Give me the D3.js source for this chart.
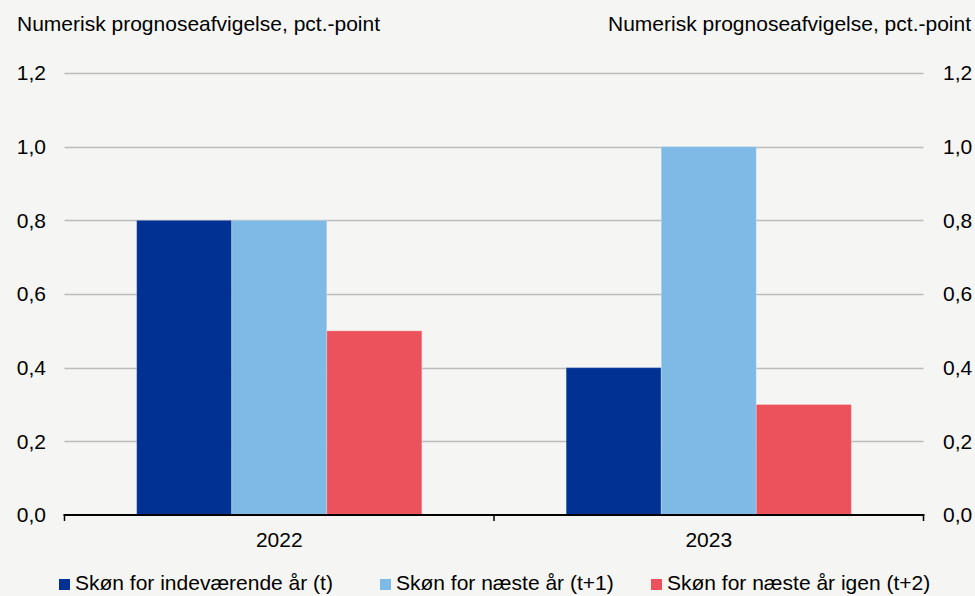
<!DOCTYPE html>
<html>
<head>
<meta charset="utf-8">
<script src="https://cdn.jsdelivr.net/npm/d3@7"></script>
<style>
  html, body { margin: 0; padding: 0; background: #f5f6f3; }
  svg { display: block; font-family: "Liberation Sans", Arial, sans-serif; }
</style>
</head>
<body>
<svg id="chart" width="975" height="596"></svg>
<script>
// Forecast error by year and forecast horizon
const years = ["2022", "2023"];
const seriesNames = ["Skøn for indeværende år (t)", "Skøn for næste år (t+1)", "Skøn for næste år igen (t+2)"];
const currentYear = [0.8, 0.4];
const nextYear = [0.8, 1.0];
const yearAfter = [0.5, 0.3];
const yTicks = [0, 0.2, 0.4, 0.6, 0.8, 1.0, 1.2];
const axisTitle = "Numerisk prognoseafvigelse, pct.-point";
const colors = ["#003193", "#7fb9e5", "#ec525b"];

const seriesValues = [currentYear, nextYear, yearAfter];
const fontSize = 21;

const svg = d3.select("#chart");
const plotLeft = 64.5, plotRight = 923.5, plotTop = 73, plotBottom = 515;

const x0 = d3.scaleBand().domain(years).range([plotLeft, plotRight]).paddingInner(0.336).paddingOuter(0.168);
const x1 = d3.scaleBand().domain(d3.range(seriesNames.length)).range([0, x0.bandwidth()]);
const y = d3.scaleLinear().domain([0, 1.2]).range([plotBottom, plotTop]);
const fmt = v => d3.format(".1f")(v).replace(".", ",");

// gridlines
svg.append("g").selectAll("line").data(yTicks.filter(t => t > 0)).join("line")
  .attr("x1", plotLeft).attr("x2", plotRight)
  .attr("y1", d => Math.round(y(d)) + 0.5).attr("y2", d => Math.round(y(d)) + 0.5)
  .attr("stroke", "#bcbcbc").attr("stroke-width", 1.5);

// bars
const groups = svg.append("g").selectAll("g").data(years).join("g")
  .attr("transform", d => `translate(${x0(d)},0)`);
groups.selectAll("rect")
  .data((d, i) => seriesValues.map((s, k) => ({ k, v: s[i] })))
  .join("rect")
  .attr("x", d => x1(d.k))
  .attr("width", x1.bandwidth())
  .attr("y", d => y(d.v))
  .attr("height", d => y(0) - y(d.v))
  .attr("fill", d => colors[d.k])
  .attr("stroke", "rgba(255,255,255,0.25)")
  .attr("stroke-width", 1);

// left axis labels
svg.append("g").selectAll("text").data(yTicks).join("text")
  .attr("x", 46).attr("y", d => y(d)).attr("dy", "0.35em")
  .attr("text-anchor", "end").attr("font-size", fontSize).attr("fill", "#000")
  .text(fmt);

// right axis labels
svg.append("g").selectAll("text").data(yTicks).join("text")
  .attr("x", 943).attr("y", d => y(d)).attr("dy", "0.35em")
  .attr("text-anchor", "start").attr("font-size", fontSize).attr("fill", "#000")
  .text(fmt);

// axis titles
svg.append("text").attr("x", 17).attr("y", 31).attr("font-size", fontSize).text(axisTitle);
svg.append("text").attr("x", 971).attr("y", 31).attr("font-size", fontSize).attr("text-anchor", "end").text(axisTitle);

// x axis
const xAxis = svg.append("g");
xAxis.append("line").attr("x1", plotLeft - 1).attr("x2", plotRight + 1)
  .attr("y1", plotBottom).attr("y2", plotBottom).attr("stroke", "#000").attr("stroke-width", 2);
const boundaries = [plotLeft, ...years.map(d => x0(d) + x0.bandwidth() + x0.step() * x0.paddingInner() / 2).slice(0, -1), plotRight];
xAxis.selectAll("line.tick").data(boundaries).join("line").attr("class", "tick")
  .attr("x1", d => d).attr("x2", d => d).attr("y1", plotBottom).attr("y2", plotBottom + 6)
  .attr("stroke", "#000").attr("stroke-width", 1.5);
xAxis.selectAll("text").data(years).join("text")
  .attr("x", d => x0(d) + x0.bandwidth() / 2).attr("y", 547)
  .attr("text-anchor", "middle").attr("font-size", fontSize).text(d => d);

// legend
const legendX = [59, 380, 651];
const legend = svg.append("g").selectAll("g").data(seriesNames).join("g")
  .attr("transform", (d, i) => `translate(${legendX[i]},579)`);
legend.append("rect").attr("width", 11).attr("height", 11).attr("fill", (d, i) => colors[i]);
legend.append("text").attr("x", 16).attr("y", 11).attr("font-size", fontSize).text(d => d);
</script>
</body>
</html>
